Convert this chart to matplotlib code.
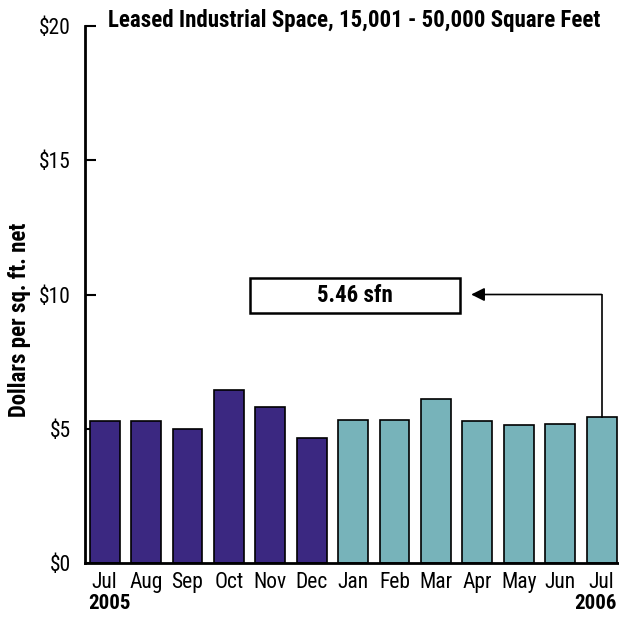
import matplotlib.pyplot as plt
import numpy as np

plt.rcParams['font.family'] = ['Roboto Condensed', 'DejaVu Sans']

months = ['Jul', 'Aug', 'Sep', 'Oct', 'Nov', 'Dec', 'Jan', 'Feb', 'Mar',
          'Apr', 'May', 'Jun', 'Jul']
values = [5.30, 5.30, 4.99, 6.45, 5.83, 4.65, 5.32, 5.32, 6.10,
          5.30, 5.14, 5.19, 5.46]
n_2005 = 6
yticks = [0, 5, 10, 15, 20]
ytick_labels = ['$0', '$5', '$10', '$15', '$20']
callout = '5.46 sfn'

c_2005 = '#3b2881'
c_2006 = '#77b3ba'

fig = plt.figure(figsize=(6.19, 6.27), dpi=100)
ax = fig.add_axes([0.137, 0.1013, 0.863, 0.858])

x = np.arange(len(months))
cols = [c_2005] * n_2005 + [c_2006] * (len(months) - n_2005)
ax.bar(x, values, width=0.72, color=cols, edgecolor='black', linewidth=1.2, zorder=2)

ax.set_xlim(-0.48, 12.42)
ax.set_ylim(0, 20)
ax.set_yticks(yticks)
ax.set_yticklabels(ytick_labels, fontsize=15.5)
ax.set_xticks(x)
ax.set_xticklabels(months, fontsize=15.5)
ax.tick_params(axis='y', direction='in', length=8, width=1.5, pad=10)
ax.tick_params(axis='x', length=0, pad=6)

for s in ['top', 'right']:
    ax.spines[s].set_visible(False)
ax.spines['left'].set_linewidth(2)
ax.spines['bottom'].set_linewidth(2)

ax.set_ylabel('Dollars per sq. ft. net', fontsize=16.5, fontweight='bold')
ax.yaxis.set_label_coords(-0.1, 0.4526)
fig.text(0.175, 0.968, 'Leased Industrial Space, 15,001 - 50,000 Square Feet',
         fontsize=16.5, fontweight='bold', ha='left', va='center')

# years under first and last month
ax.text(-0.4, -0.074, '2005', transform=ax.get_xaxis_transform(),
        fontsize=15, fontweight='bold', ha='left', va='center')
ax.text(12.36, -0.074, '2006', transform=ax.get_xaxis_transform(),
        fontsize=15, fontweight='bold', ha='right', va='center')

# callout box and elbow arrow
ax.add_patch(plt.Rectangle((3.5, 9.33), 5.07, 1.27, facecolor='white',
                           edgecolor='black', linewidth=1.8, zorder=3))
ax.text(6.03, 9.97, callout, fontsize=16.5, fontweight='bold', ha='center', va='center', zorder=4)
ax.plot([12, 12], [values[-1], 10.0], color='black', linewidth=1.2, zorder=3)
ax.annotate('', xy=(8.85, 10.0), xytext=(12, 10.0),
            arrowprops=dict(arrowstyle='-|>', color='black', linewidth=1.2,
                            mutation_scale=20, shrinkA=0, shrinkB=0))

fig.savefig('out.png', dpi=100)
